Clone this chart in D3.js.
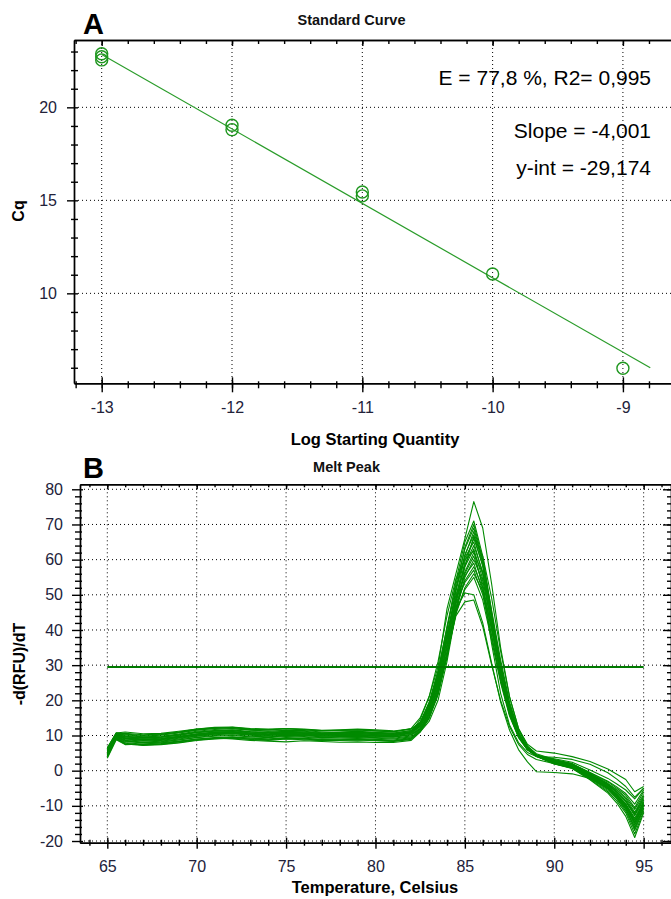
<!DOCTYPE html>
<html>
<head>
<meta charset="utf-8">
<script src="https://cdn.jsdelivr.net/npm/d3@7"></script>
<style>
  html, body { margin: 0; padding: 0; background: #fff; }
  svg { display: block; font-family: "Liberation Sans", Arial, sans-serif; }
</style>
</head>
<body>
<svg id="chart" width="671" height="899"></svg>
<script>
// ---- Standard curve (panel A) ----
const stdLogQty = [-13, -13, -13, -12, -12, -11, -11, -10, -9];
const stdCq     = [22.88, 22.72, 22.55, 19.04, 18.8, 15.45, 15.24, 11.04, 5.97];
const fitSlope = -4.001;
const fitIntercept = -29.174;
const fitLogRange = [-13, -8.79];
const stdXTicks = [-13, -12, -11, -10, -9];
const stdYTicks = [10, 15, 20];
const stdStats = ["E = 77,8 %, R2= 0,995", "Slope = -4,001", "y-int = -29,174"];

// ---- Melt peak (panel B) ----
const meltTemps = [65, 65.5, 66, 67, 68, 69, 70, 71, 72, 73, 74, 75, 76, 77, 78, 79, 80, 81,
                   82, 82.5, 83, 83.5, 84, 84.5, 85, 85.5, 86, 86.5, 87, 87.5, 88, 88.5, 89,
                   90, 91, 92, 93, 93.5, 94, 94.5, 95];
const meltCurves = [
  [6.5,10.8, 10.4,10.0,10.3,10.9,11.6,12.1,12.2,11.8,11.6,11.9,11.6,11.3,11.5,11.6,11.3,11.0,12.0, 15.0,21.0,29.5,46.0,56.0,66.0,76.5, 69.0,53.0,35.0,21.0,12.0,7.5,5.6, 5.0,4.0,2.6,0.5,-1.0,-2.5,-6.0,-4.5],
  [5.5,10.2, 9.6,9.2,9.5,10.1,10.9,11.4,11.6,11.1,10.9,11.2,11.0,10.6,10.8,11.0,10.6,10.4,11.0, 13.0,18.5,27.0,40.0,54.0,65.0,71.0, 61.0,45.0,30.0,18.0,10.5,6.5,4.5, 2.8,1.6,-1.0,-4.0,-6.0,-8.5,-12.5,-8.0],
  [4.8,9.8, 8.6,8.1,8.4,9.0,9.8,10.2,10.5,10.1,9.8,10.1,10.0,9.6,9.7,9.8,9.6,9.5,10.2, 12.5,17.0,25.0,37.5,51.5,63.5,70.0, 60.0,44.5,29.0,17.5,10.0,6.2,4.3, 2.5,1.4,-1.4,-4.6,-6.8,-9.5,-14.0,-9.0],
  [6.0,10.5, 10.0,9.6,9.8,10.4,11.2,11.7,11.9,11.5,11.2,11.5,11.4,11.0,11.0,11.2,10.9,10.7,11.4, 13.5,19.0,28.0,41.0,53.0,63.0,69.0, 59.5,45.5,31.5,19.5,11.5,7.0,4.8, 3.2,2.0,-0.8,-3.6,-5.4,-7.6,-11.0,-6.8],
  [4.2,9.4, 8.0,7.5,7.7,8.3,9.0,9.4,9.6,9.3,9.0,9.4,9.2,8.9,9.0,9.1,8.9,8.7,9.4, 11.8,16.0,23.5,35.5,49.0,61.0,68.0, 59.0,44.0,29.5,18.0,10.2,6.0,4.0, 2.2,1.0,-1.8,-5.0,-7.4,-10.5,-15.5,-10.0],
  [5.0,10.0, 9.2,8.8,9.0,9.6,10.4,10.9,11.0,10.6,10.4,10.8,10.6,10.3,10.4,10.6,10.2,10.0,10.7, 12.8,17.8,26.0,38.5,51.0,61.5,67.0, 58.0,43.5,29.0,17.8,10.4,6.4,4.4, 2.6,1.5,-1.2,-4.2,-6.2,-8.8,-12.8,-8.4],
  [3.8,9.2, 7.8,7.3,7.5,8.0,8.7,9.1,9.4,9.0,8.8,9.1,9.0,8.6,8.7,8.8,8.6,8.4,9.1, 11.5,15.5,22.5,34.0,47.5,59.5,66.0, 58.5,44.0,29.8,18.4,10.6,6.2,4.1, 2.0,0.8,-2.2,-5.6,-8.0,-11.5,-17.0,-11.0],
  [5.8,10.4, 10.2,9.8,10.1,10.7,11.5,12.0,12.3,11.8,11.6,11.9,11.7,11.4,11.4,11.6,11.3,11.1,11.8, 13.8,19.5,28.5,40.5,52.0,60.5,65.0, 56.0,41.0,27.0,16.5,9.8,6.0,4.2, 3.0,1.8,-0.6,-3.2,-5.0,-7.0,-10.5,-6.0],
  [4.5,9.6, 8.4,8.0,8.2,8.8,9.5,10.0,10.2,9.8,9.6,9.9,9.7,9.4,9.5,9.6,9.4,9.2,9.9, 12.0,16.5,24.0,36.0,48.5,58.5,64.0, 56.5,43.0,29.0,17.6,10.2,6.2,4.2, 2.4,1.2,-1.6,-4.8,-7.0,-10.0,-14.5,-9.5],
  [6.2,10.6, 10.6,10.2,10.4,11.0,11.8,12.2,12.0,11.6,11.2,11.4,11.2,10.8,10.9,11.1,10.8,10.6,11.4, 13.2,18.0,26.5,38.0,50.0,58.0,63.0, 54.5,41.5,28.0,17.2,10.0,6.1,4.3, 2.9,1.7,-0.9,-3.8,-5.6,-8.0,-11.8,-7.2],
  [4.0,9.0, 7.6,7.2,7.4,7.9,8.6,9.0,9.2,8.9,8.6,9.0,8.8,8.5,8.6,8.7,8.5,8.3,8.9, 11.2,15.0,22.0,33.0,46.0,56.5,62.0, 56.0,43.5,30.5,19.0,11.0,6.5,4.3, 2.1,0.9,-2.0,-5.2,-7.8,-11.0,-16.0,-10.5],
  [5.3,10.1, 9.4,9.0,9.2,9.8,10.5,11.0,11.1,10.8,10.5,10.9,10.7,10.3,10.4,10.6,10.3,10.1,10.8, 12.9,17.5,25.5,37.0,48.0,56.0,61.0, 53.0,40.0,27.0,16.6,9.8,6.0,4.2, 2.7,1.6,-1.1,-4.0,-6.0,-8.6,-12.2,-7.6],
  [3.5,8.8, 7.4,7.6,7.9,8.4,9.0,9.3,9.0,8.6,8.4,8.2,8.5,8.3,8.1,8.2,8.0,8.0,8.6, 11.0,14.8,21.5,32.5,45.0,55.0,60.0, 54.0,42.0,29.5,18.5,10.8,6.4,4.2, 2.0,0.7,-2.4,-6.0,-8.6,-12.0,-18.0,-11.5],
  [5.6,10.3, 9.8,9.4,9.6,10.2,11.0,11.3,11.4,11.0,10.8,11.1,11.0,10.6,10.7,10.9,10.6,10.4,11.1, 13.4,18.8,27.5,39.0,49.0,55.5,59.0, 51.0,38.5,26.0,16.0,9.6,6.0,4.4, 3.1,2.0,-0.5,-3.0,-4.6,-6.5,-9.5,-5.5],
  [4.4,9.5, 8.8,8.4,8.6,9.2,9.9,10.4,10.6,10.2,10.0,10.3,10.1,9.8,9.9,10.0,9.8,9.6,10.3, 11.8,16.0,23.5,35.0,46.5,54.0,58.0, 52.0,40.0,27.5,17.0,10.0,6.1,4.2, 2.3,1.1,-1.7,-4.9,-7.2,-10.2,-15.0,-9.8],
  [6.4,10.7, 11.0,10.5,10.6,11.2,11.8,12.3,12.4,12.0,11.8,12.0,11.8,11.5,11.6,11.8,11.6,11.3,11.9, 13.6,19.0,27.0,38.0,47.5,53.5,57.0, 50.0,38.0,25.5,15.8,9.6,6.0,4.4, 3.4,2.4,0.2,-2.2,-3.8,-5.5,-8.0,-5.0],
  [4.1,9.1, 7.6,7.4,7.6,8.2,8.8,9.2,9.5,9.2,9.0,9.2,9.1,8.8,8.8,8.9,8.7,8.5,9.2, 11.3,15.2,22.0,33.0,44.5,52.0,56.0, 51.0,40.5,28.5,17.8,10.4,6.2,4.1, 1.9,0.6,-2.6,-6.4,-9.2,-13.0,-19.0,-12.0],
  [5.2,10.0, 9.3,8.9,9.1,9.7,10.3,10.6,10.8,10.5,10.2,10.6,10.4,10.1,10.2,10.3,10.1,9.9,10.6, 12.6,17.2,25.0,35.5,45.0,51.5,55.0, 48.5,37.0,25.0,15.5,9.4,5.9,4.2, 2.6,1.4,-1.3,-4.4,-6.6,-9.4,-13.5,-8.8],
  [4.8,9.7, 9.0,8.6,8.8,9.4,10.1,10.5,10.7,10.3,10.1,10.4,10.2,9.9,10.0,10.1,9.9,9.7,10.3, 12.0,16.5,23.0,32.0,46.0,50.5,50.0, 42.0,30.5,19.5,11.5,6.0,2.5,-0.3, -0.5,-0.9,-2.2,-5.0,-7.0,-9.8,-14.0,-9.2],
  [5.9,10.4, 9.7,9.3,9.5,10.1,10.8,11.2,11.3,11.0,10.7,11.0,10.8,10.5,10.6,10.8,10.5,10.3,11.1, 13.0,17.5,24.5,33.0,44.0,48.0,48.5, 41.0,30.0,20.0,12.5,7.5,4.6,3.2, 2.0,1.0,-1.8,-5.2,-7.6,-10.8,-16.5,-10.6],
  [5.0,9.9, 9.1,8.7,8.9,9.5,10.2,10.7,10.9,10.5,10.3,10.6,10.4,10.1,10.2,10.3,10.0,9.9,11.0, 14.5,21.0,31.0,44.0,54.5,60.0,62.5, 52.0,36.0,22.0,13.0,8.0,5.2,4.0, 3.8,3.2,1.8,-0.6,-2.4,-4.5,-7.5,-5.0],
  [4.6,9.5, 8.3,7.9,8.1,8.7,9.4,9.8,10.0,9.6,9.4,9.7,9.5,9.2,9.3,9.4,9.2,9.0,9.6, 11.0,14.0,20.0,31.0,45.0,58.0,66.5, 61.0,49.0,34.0,21.0,12.0,7.0,4.5, 2.3,1.1,-1.6,-4.6,-6.9,-9.9,-14.8,-9.6]
];
const meltThreshold = 29.5;
const thresholdRange = [65, 95];
const meltXTicks = [65, 70, 75, 80, 85, 90, 95];
const meltYTicks = [-20, -10, 0, 10, 20, 30, 40, 50, 60, 70, 80];

const svg = d3.select("#chart");
const FONT = "'Liberation Sans', Arial, sans-serif";
const labelColor = "#22223a";
const plainNumber = d => String(d);

// Axis styling helper: ticks that straddle the axis line.
function styleAxis(g, opts) {
  g.select(".domain").attr("stroke", "#000").attr("stroke-width", 1.4);
  g.selectAll(".tick line").attr("stroke", "#000").attr("stroke-width", 1.4);
  g.selectAll(".tick text").attr("fill", labelColor).attr("font-size", 16).attr("font-family", FONT);
  if (opts && opts.cross) {
    const [a, b] = opts.cross;
    if (opts.orient === "left") g.selectAll(".tick line").attr("x1", b).attr("x2", -a);
    if (opts.orient === "bottom") g.selectAll(".tick line").attr("y1", -a).attr("y2", b);
  }
}

function dottedGrid(g, xs, ys, xScale, yScale) {
  const [x0, x1] = xScale.range();
  const [y0, y1] = yScale.range();
  g.selectAll(null).data(xs).join("line")
    .attr("x1", d => xScale(d)).attr("x2", d => xScale(d))
    .attr("y1", y1).attr("y2", y0)
    .attr("stroke", "#000").attr("stroke-width", 1).attr("stroke-dasharray", "1,3");
  g.selectAll(null).data(ys).join("line")
    .attr("x1", x0).attr("x2", x1)
    .attr("y1", d => yScale(d)).attr("y2", d => yScale(d))
    .attr("stroke", "#000").attr("stroke-width", 1).attr("stroke-dasharray", "1,3");
}

// ================= Panel A: Standard Curve =================
{
  const x = d3.scaleLinear().domain([-13.2126, -8.631]).range([74, 671]);
  const y = d3.scaleLinear().domain([5.18, 23.62]).range([383, 40]);
  const g = svg.append("g");
  const minorX = d3.range(-13.2, -8.6, 0.2).map(v => +v.toFixed(1));

  dottedGrid(g, stdXTicks, stdYTicks, x, y);

  // top border with small inward ticks
  const top = g.append("g").attr("transform", "translate(0,40)")
    .call(d3.axisTop(x).tickValues(minorX).tickSize(-4).tickSizeOuter(0).tickFormat(""));
  styleAxis(top);
  const topMaj = g.append("g").attr("transform", "translate(0,40)")
    .call(d3.axisTop(x).tickValues(stdXTicks).tickSize(-6).tickSizeOuter(0).tickFormat(""));
  styleAxis(topMaj);

  // left axis
  const leftMin = g.append("g").attr("transform", "translate(74,0)")
    .call(d3.axisLeft(y).tickValues(d3.range(6, 24, 1).filter(v => v % 5 !== 0)).tickSize(3).tickSizeOuter(0).tickFormat(""));
  styleAxis(leftMin, { orient: "left", cross: [3, 4] });
  const left = g.append("g").attr("transform", "translate(74,0)")
    .call(d3.axisLeft(y).tickValues(stdYTicks).tickSize(7).tickPadding(10).tickSizeOuter(0).tickFormat(plainNumber));
  styleAxis(left, { orient: "left", cross: [7, 4] });

  // bottom axis
  const botMin = g.append("g").attr("transform", "translate(0,383.3)")
    .call(d3.axisBottom(x).tickValues(minorX).tickSize(5).tickSizeOuter(0).tickFormat(""));
  styleAxis(botMin, { orient: "bottom", cross: [2, 5] });
  const bot = g.append("g").attr("transform", "translate(0,383.3)")
    .call(d3.axisBottom(x).tickValues(stdXTicks).tickSize(9).tickSizeOuter(0).tickFormat(plainNumber));
  styleAxis(bot, { orient: "bottom", cross: [6, 9] });
  bot.selectAll(".tick text").attr("y", 18.5);

  // regression line
  g.append("line")
    .attr("x1", x(fitLogRange[0])).attr("y1", y(fitSlope * fitLogRange[0] + fitIntercept))
    .attr("x2", x(fitLogRange[1])).attr("y2", y(fitSlope * fitLogRange[1] + fitIntercept))
    .attr("stroke", "#2a9c2a").attr("stroke-width", 1.2);

  // standards
  g.selectAll(null).data(stdLogQty.map((v, i) => [v, stdCq[i]])).join("circle")
    .attr("cx", d => x(d[0])).attr("cy", d => y(d[1])).attr("r", 6)
    .attr("fill", "none").attr("stroke", "#1e961e").attr("stroke-width", 1.4);

  // statistics text
  const statY = [85, 137.7, 175];
  g.selectAll(null).data(stdStats).join("text")
    .attr("x", 651).attr("y", (d, i) => statY[i])
    .attr("text-anchor", "end").attr("font-size", 21).attr("font-family", FONT).attr("fill", "#000")
    .text(d => d);

  g.append("text").attr("x", 351.5).attr("y", 25).attr("text-anchor", "middle")
    .attr("font-size", 14.5).attr("font-weight", "bold").attr("font-family", FONT).attr("fill", "#111")
    .text("Standard Curve");
  g.append("text").attr("x", 375).attr("y", 445).attr("text-anchor", "middle")
    .attr("font-size", 16.5).attr("font-weight", "bold").attr("font-family", FONT).attr("fill", "#000")
    .text("Log Starting Quantity");
  g.append("text").attr("transform", "translate(24,211) rotate(-90)").attr("text-anchor", "middle")
    .attr("font-size", 16).attr("font-weight", "bold").attr("font-family", FONT).attr("fill", "#000")
    .text("Cq");
  g.append("text").attr("x", 83).attr("y", 34)
    .attr("font-size", 29).attr("font-weight", "bold").attr("font-family", FONT).attr("fill", "#000")
    .text("A");
}

// ================= Panel B: Melt Peak =================
{
  const x = d3.scaleLinear().domain([63.473, 96.53]).range([80, 671]);
  const y = d3.scaleLinear().domain([-20.48, 81.42]).range([842.7, 484.3]);
  const g = svg.append("g");

  dottedGrid(g, meltXTicks, meltYTicks, x, y);

  // top border ticks
  const top = g.append("g").attr("transform", "translate(0,484.3)")
    .call(d3.axisTop(x).tickValues(d3.range(64, 97, 1)).tickSize(-3).tickSizeOuter(0).tickFormat(""));
  styleAxis(top);
  const topMaj = g.append("g").attr("transform", "translate(0,484.3)")
    .call(d3.axisTop(x).tickValues(meltXTicks).tickSize(-5).tickSizeOuter(0).tickFormat(""));
  styleAxis(topMaj);

  // right border ticks
  const right = g.append("g").attr("transform", "translate(671,0)")
    .call(d3.axisRight(y).tickValues(d3.range(-20, 81, 2)).tickSize(-4).tickSizeOuter(0).tickFormat(""));
  styleAxis(right);
  const rightMaj = g.append("g").attr("transform", "translate(671,0)")
    .call(d3.axisRight(y).tickValues(meltYTicks).tickSize(-8).tickSizeOuter(0).tickFormat(""));
  styleAxis(rightMaj);

  // left axis
  const leftMin = g.append("g").attr("transform", "translate(80,0)")
    .call(d3.axisLeft(y).tickValues(d3.range(-20, 81, 2).filter(v => v % 10 !== 0)).tickSize(5).tickSizeOuter(0).tickFormat(""));
  styleAxis(leftMin, { orient: "left", cross: [5, 2] });
  const left = g.append("g").attr("transform", "translate(80,0)")
    .call(d3.axisLeft(y).tickValues(meltYTicks).tickSize(8).tickPadding(9).tickSizeOuter(0).tickFormat(plainNumber));
  styleAxis(left, { orient: "left", cross: [8, 3] });

  // bottom axis
  const botMin = g.append("g").attr("transform", "translate(0,842.7)")
    .call(d3.axisBottom(x).tickValues(d3.range(64, 97, 1).filter(v => v % 5 !== 0)).tickSize(3).tickSizeOuter(0).tickFormat(""));
  styleAxis(botMin, { orient: "bottom", cross: [3, 3] });
  const bot = g.append("g").attr("transform", "translate(0,842.7)")
    .call(d3.axisBottom(x).tickValues(meltXTicks).tickSize(6).tickSizeOuter(0).tickFormat(plainNumber));
  styleAxis(bot, { orient: "bottom", cross: [5, 6] });
  bot.selectAll(".tick text").attr("y", 17.5);

  // melt curves
  const line = d3.line().x((d, i) => x(meltTemps[i])).y(d => y(d));
  g.append("g").selectAll("path").data(meltCurves).join("path")
    .attr("d", line).attr("fill", "none")
    .attr("stroke", "#008a00").attr("stroke-width", 1.1).attr("stroke-linejoin", "round");

  // threshold line
  g.append("line")
    .attr("x1", x(thresholdRange[0])).attr("x2", x(thresholdRange[1]))
    .attr("y1", y(meltThreshold)).attr("y2", y(meltThreshold))
    .attr("stroke", "#007a00").attr("stroke-width", 2);

  g.append("text").attr("x", 346.5).attr("y", 471.5).attr("text-anchor", "middle")
    .attr("font-size", 14.5).attr("font-weight", "bold").attr("font-family", FONT).attr("fill", "#111")
    .text("Melt Peak");
  g.append("text").attr("x", 375).attr("y", 893).attr("text-anchor", "middle")
    .attr("font-size", 16.5).attr("font-weight", "bold").attr("font-family", FONT).attr("fill", "#000")
    .text("Temperature, Celsius");
  g.append("text").attr("transform", "translate(25,664) rotate(-90)").attr("text-anchor", "middle")
    .attr("font-size", 16).attr("font-weight", "bold").attr("font-family", FONT).attr("fill", "#000")
    .text("-d(RFU)/dT");
  g.append("text").attr("x", 83).attr("y", 478)
    .attr("font-size", 29).attr("font-weight", "bold").attr("font-family", FONT).attr("fill", "#000")
    .text("B");
}
</script>
</body>
</html>
